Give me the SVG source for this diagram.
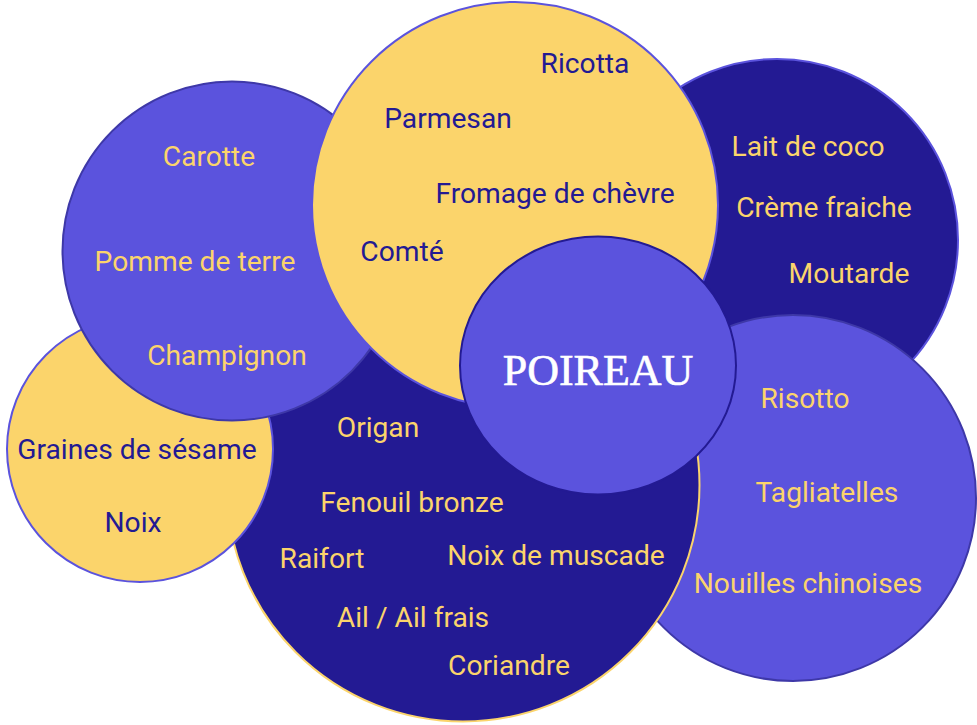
<svg xmlns="http://www.w3.org/2000/svg" width="977" height="725" viewBox="0 0 977 725">
<style>
.navy{fill:#231a93}
.purple{fill:#5b53dd}
.yellow{fill:#fbd46b}
.t{font-family:Roboto,"Liberation Sans",sans-serif;font-size:28.2px;text-anchor:middle}
.ty{fill:#fbd46b}
.tn{fill:#231a93}
.title{font-family:"Liberation Serif","DejaVu Serif",serif;font-size:44px;fill:#ffffff;stroke:#ffffff;stroke-width:0.6;text-anchor:middle}
</style>
<rect width="977" height="725" fill="#ffffff"/>
<g id="connectors"/>
<g id="sauces">
<circle class="navy" cx="777" cy="240" r="181" stroke="#5b53dd" stroke-width="2"/>
<text class="t ty" x="808" y="156">Lait de coco</text>
<text class="t ty" x="824" y="217">Crème fraiche</text>
<text class="t ty" x="849" y="283">Moutarde</text>
</g>
<g id="feculents">
<circle class="purple" cx="793" cy="498" r="183" stroke="#3e38a8" stroke-width="2"/>
<text class="t ty" x="805" y="408">Risotto</text>
<text class="t ty" x="827" y="502">Tagliatelles</text>
<text class="t ty" x="808" y="593">Nouilles chinoises</text>
</g>
<g id="aromates">
<circle class="navy" cx="463" cy="485" r="236.5" stroke="#fbd46b" stroke-width="2"/>
<text class="t ty" x="378" y="437">Origan</text>
<text class="t ty" x="412" y="512">Fenouil bronze</text>
<text class="t ty" x="322" y="568">Raifort</text>
<text class="t ty" x="556" y="565">Noix de muscade</text>
<text class="t ty" x="413" y="627">Ail / Ail frais</text>
<text class="t ty" x="509" y="675">Coriandre</text>
</g>
<g id="graines">
<circle class="yellow" cx="140" cy="449" r="133" stroke="#5b53dd" stroke-width="2"/>
<text class="t tn" x="137" y="459">Graines de sésame</text>
<text class="t tn" x="133" y="532">Noix</text>
</g>
<g id="legumes">
<circle class="purple" cx="232" cy="251" r="169.5" stroke="#3e38a8" stroke-width="2"/>
<text class="t ty" x="209" y="166">Carotte</text>
<text class="t ty" x="195" y="271">Pomme de terre</text>
<text class="t ty" x="227" y="365">Champignon</text>
</g>
<g id="fromages">
<circle class="yellow" cx="515" cy="205" r="203" stroke="#5b53dd" stroke-width="2"/>
<text class="t tn" x="585" y="73">Ricotta</text>
<text class="t tn" x="448" y="128">Parmesan</text>
<text class="t tn" x="555" y="203">Fromage de chèvre</text>
<text class="t tn" x="402" y="261">Comté</text>
</g>
<g id="poireau">
<ellipse class="purple" cx="598" cy="365.5" rx="138" ry="129" stroke="#231a93" stroke-width="2"/>
<text class="title" x="598" y="385">POIREAU</text>
</g>
</svg>
